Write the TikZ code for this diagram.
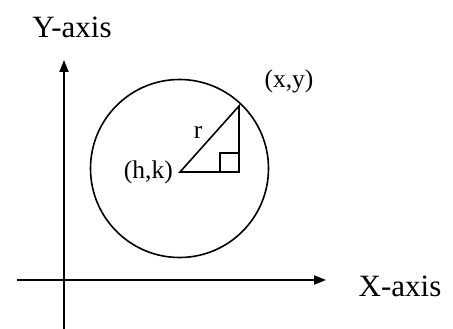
\documentclass[tikz,border=0pt]{standalone}
\usepackage{fontspec}
\setmainfont{Liberation Serif}
\usetikzlibrary{arrows.meta}
\begin{document}
\begin{tikzpicture}[x=1pt,y=-1pt,
  axisline/.style={line width=1.8pt,-{Triangle[length=12pt,width=9pt]}},
  geo/.style={line width=1.6pt},
  biglabel/.style={font=\fontsize{31}{31}\selectfont,inner sep=0pt},
  smalllabel/.style={font=\fontsize{25.5}{25.5}\selectfont,inner sep=0pt}]
\useasboundingbox (0,0) rectangle (453,329);
\coordinate (xstart) at (17,280);
\coordinate (xend) at (326,280);
\coordinate (ystart) at (64,329);
\coordinate (yend) at (64,60);
\draw[axisline] (xstart) -- (xend);
\draw[axisline] (ystart) -- (yend);
\coordinate (c) at (179.5,168.5);
\draw[geo] (c) circle[radius=89];
\coordinate (hk) at (180,172);
\coordinate (p) at (239,106);
\coordinate (foot) at (239,172);
\draw[geo] (hk) -- (p) -- (foot) -- cycle;
\draw[line width=1.4pt] (220,172) -- (220,153) -- (239,153);
\node[biglabel] (ylab) at (72,27) {Y-axis};
\node[biglabel] (xlab) at (400,286) {X-axis};
\node[smalllabel,anchor=east] (hklab) at (173,172) {(h,k)};
\node[smalllabel] (xylab) at (289,81) {(x,y)};
\node[smalllabel] (rlab) at (198,132) {r};
\end{tikzpicture}
\end{document}
